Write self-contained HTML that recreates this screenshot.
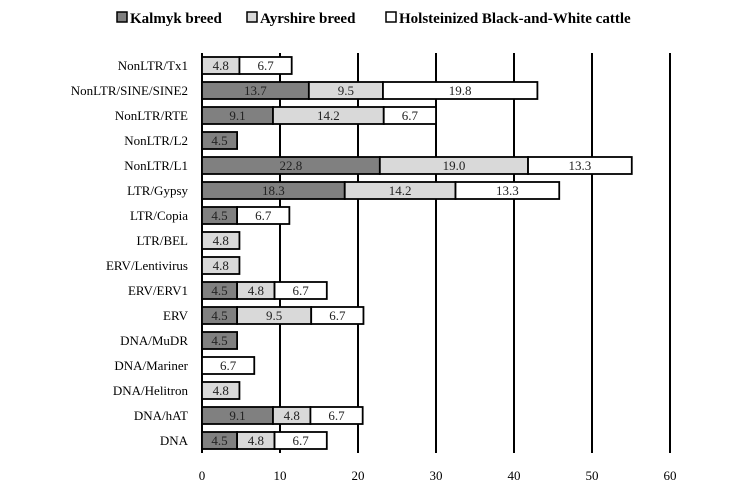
<!DOCTYPE html>
<html><head><meta charset="utf-8"><style>
body{margin:0;background:#fff}
svg{font-family:"Liberation Serif",serif}
</style></head><body>
<svg id="c" width="753" height="495" xmlns="http://www.w3.org/2000/svg">
<g id="legend" font-weight="bold" font-size="15">
<g><rect x="117" y="12" width="10" height="10" fill="#808080" stroke="#000" stroke-width="1.5"/><text x="130" y="23">Kalmyk breed</text></g>
<g><rect x="247" y="12" width="10" height="10" fill="#d9d9d9" stroke="#000" stroke-width="1.5"/><text x="260" y="23">Ayrshire breed</text></g>
<g><rect x="386" y="12" width="10" height="10" fill="#fff" stroke="#000" stroke-width="1.5"/><text x="399" y="23">Holsteinized Black-and-White cattle</text></g>
</g>
</svg>
<script>
const categories=["NonLTR/Tx1","NonLTR/SINE/SINE2","NonLTR/RTE","NonLTR/L2","NonLTR/L1","LTR/Gypsy","LTR/Copia","LTR/BEL","ERV/Lentivirus","ERV/ERV1","ERV","DNA/MuDR","DNA/Mariner","DNA/Helitron","DNA/hAT","DNA"];
const kalmyk=[0,13.7,9.1,4.5,22.8,18.3,4.5,0,0,4.5,4.5,4.5,0,0,9.1,4.5];
const ayrshire=[4.8,9.5,14.2,0,19.0,14.2,0,4.8,4.8,4.8,9.5,0,0,4.8,4.8,4.8];
const holstein=[6.7,19.8,6.7,0,13.3,13.3,6.7,0,0,6.7,6.7,0,6.7,0,6.7,6.7];
const ticks=[0,10,20,30,40,50,60];
const NS="http://www.w3.org/2000/svg";
const svg=document.getElementById('c');
const x=v=>202+v*7.8;
const yTop=i=>57+i*25;
const BH=17;
function mk(t,a,p){const e=document.createElementNS(NS,t);for(const k in a)e.setAttribute(k,a[k]);(p||svg).appendChild(e);return e;}
const grid=mk('g',{});


ticks.forEach(t=>{
  const l=mk('line',{x1:x(t),x2:x(t),y1:53,y2:453,stroke:'#000','stroke-width':2},grid);
  
  
  const tx=mk('text',{x:x(t),y:480,'text-anchor':'middle','font-size':13},svg);
  tx.textContent=t;
  
  
});
const series=[[kalmyk,'#808080','kalmyk'],[ayrshire,'#d9d9d9','ayrshire'],[holstein,'#fff','holstein']];
categories.forEach((c,i)=>{
  const lab=mk('text',{x:188,y:yTop(i)+13,'text-anchor':'end','font-size':13},svg);
  lab.textContent=c;
  
  
  let acc=0;
  series.forEach(([arr,col,nm])=>{
    const v=arr[i];if(!v)return;
    const r=mk('rect',{x:x(acc),y:yTop(i),width:v*7.8,height:BH,fill:col,stroke:'#000','stroke-width':1.8});
    
    
    const t=mk('text',{x:x(acc+v/2),y:yTop(i)+13,'text-anchor':'middle','font-size':13,fill:'#222'});
    t.textContent=v.toFixed(1);
    
    
    acc+=v;
  });
});
</script>
</body></html>
